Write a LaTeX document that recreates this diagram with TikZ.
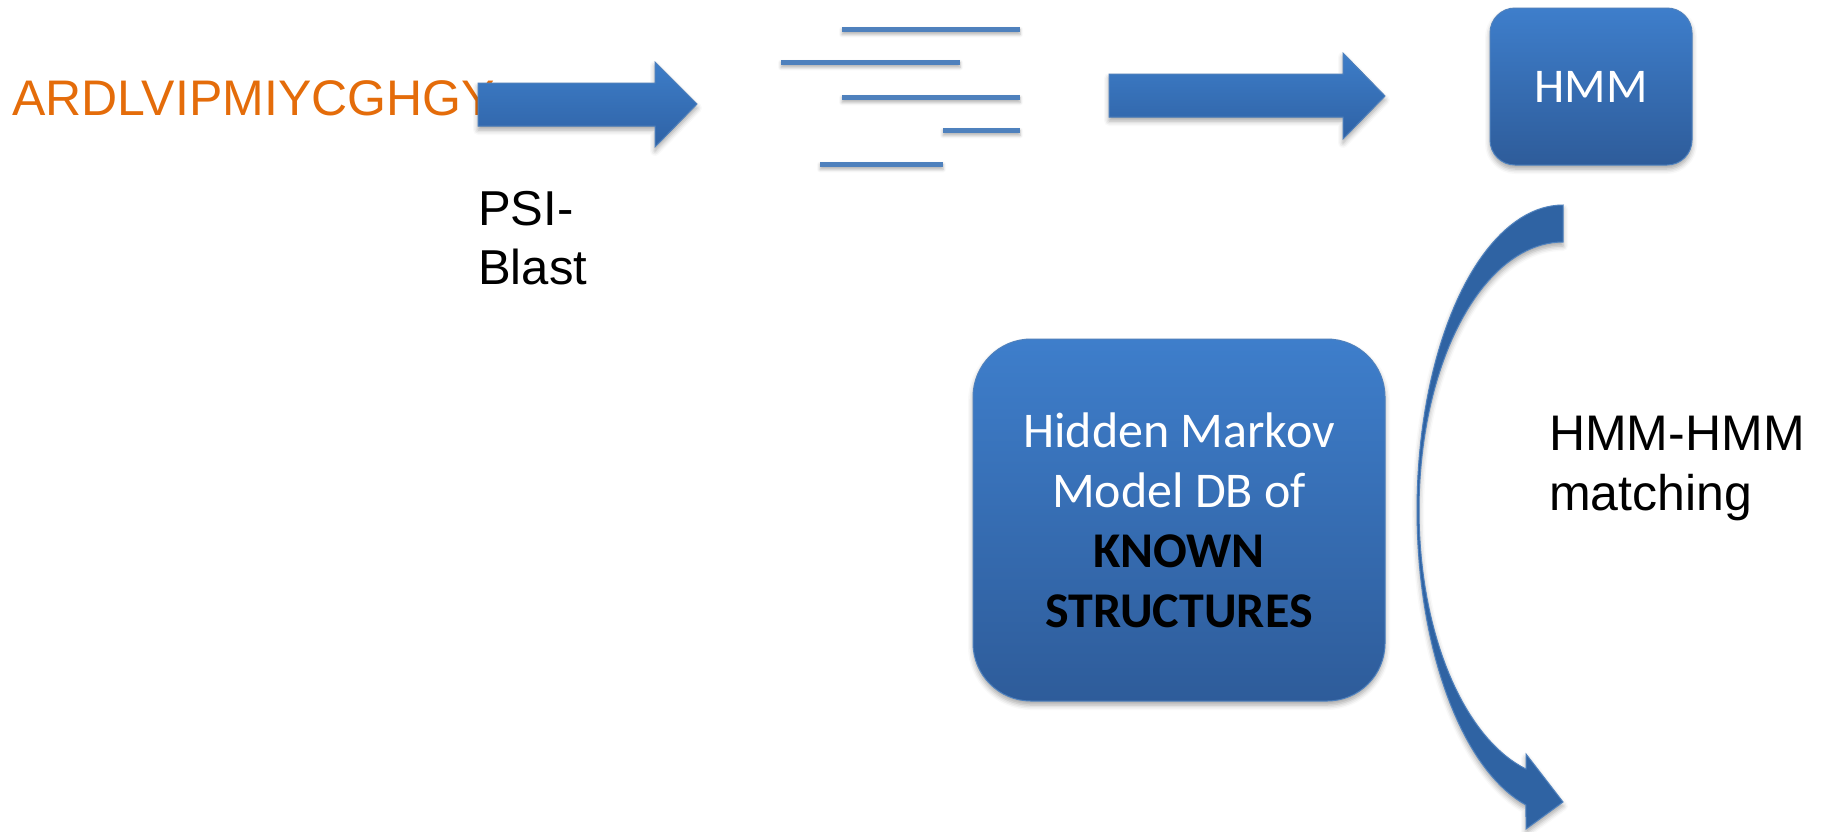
\documentclass[tikz,border=0pt]{standalone}
\usepackage{fontspec}
\setmainfont{Liberation Sans}
\newfontfamily\calibri{Carlito}
\usetikzlibrary{shadows.blur}
\definecolor{seqorange}{HTML}{E46C0A}
\definecolor{boxtop}{HTML}{3E7ECB}
\definecolor{boxbot}{HTML}{2E5C9A}
\definecolor{arrtop}{HTML}{3D7DC8}
\definecolor{arrbot}{HTML}{2F62A5}
\definecolor{edgeblue}{HTML}{4F81BD}
\definecolor{curveblue}{HTML}{2F63A3}
\begin{document}
\begin{tikzpicture}[x=1pt,y=-1pt,
  softshadow/.style={blur shadow={shadow xshift=0pt,shadow yshift=-4pt,shadow blur radius=5pt,shadow opacity=35}},
  bluebox/.style={top color=boxtop,bottom color=boxbot,draw=edgeblue,line width=1pt,softshadow},
  blockarrow/.style={top color=arrtop,bottom color=arrbot,draw=edgeblue,line width=1pt,softshadow},
  curvearrow/.style={fill=curveblue,draw=edgeblue,line width=1pt,softshadow},
  hitline/.style={fill=edgeblue,blur shadow={shadow xshift=0pt,shadow yshift=-3pt,shadow blur radius=3pt,shadow opacity=30}},
  labeltext/.style={font=\fontsize{49}{59}\selectfont,text=black,inner sep=0pt},
  boxtext/.style={font=\calibri\fontsize{50}{60.3}\selectfont,text=white,inner sep=0pt}]
\useasboundingbox (0,0) rectangle (1827,831);

% query sequence
\node[anchor=base west,inner sep=0pt,text=seqorange,font=\fontsize{50}{60}\selectfont] (seq) at (12,115) {ARDLVIPMIYCGHGY};

% arrow 1
\filldraw[blockarrow] (478,83) -- (655,83) -- (655,62) -- (697,104) -- (655,147) -- (655,126) -- (478,126) -- cycle;
\node[labeltext,anchor=base west] (psi) at (478,225) {\begin{tabular}[t]{@{}l@{}}PSI-\\Blast\end{tabular}};

% alignment hits
\fill[hitline] (842,26.5) rectangle (1020,31.5);
\fill[hitline] (781,59.5) rectangle (960,64.5);
\fill[hitline] (842,94.5) rectangle (1020,99.5);
\fill[hitline] (943,127.5) rectangle (1020,132.5);
\fill[hitline] (820,161.5) rectangle (943,166.5);

% arrow 2
\filldraw[blockarrow] (1109,74) -- (1343,74) -- (1343,53) -- (1385,96) -- (1343,139) -- (1343,117) -- (1109,117) -- cycle;

% HMM box
\node[bluebox,rounded corners=25pt,minimum width=202pt,minimum height=157pt,inner sep=0pt,text=white,font=\calibri\fontsize{48.5}{58}\selectfont] (hmm) at (1591,86.5) {HMM};

% database box
\node[bluebox,rounded corners=58pt,minimum width=412pt,minimum height=362pt,inner sep=0pt] (db) at (1179,520) {};
\node[boxtext,anchor=base] (dbtext) at (1179,447) {\begin{tabular}[t]{@{}c@{}}Hidden Markov\\Model DB of\\\textcolor{black}{\bfseries KNOWN}\\\textcolor{black}{\bfseries STRUCTURES}\end{tabular}};

% curved arrow
\filldraw[curvearrow] plot[domain=104.7:270,samples=80] ({1563+146*cos(374.7-\x)},{510+305*sin(374.7-\x)})
  -- (1526,829) -- (1563,802) -- (1526,754)
  -- plot[domain=104.9:270,samples=80] ({1563+144*cos(\x)},{510+268*sin(\x)}) -- cycle;

\node[labeltext,anchor=base west,font=\fontsize{50}{60}\selectfont] (match) at (1549,450) {\begin{tabular}[t]{@{}l@{}}HMM-HMM\\matching\end{tabular}};
\end{tikzpicture}
\end{document}
